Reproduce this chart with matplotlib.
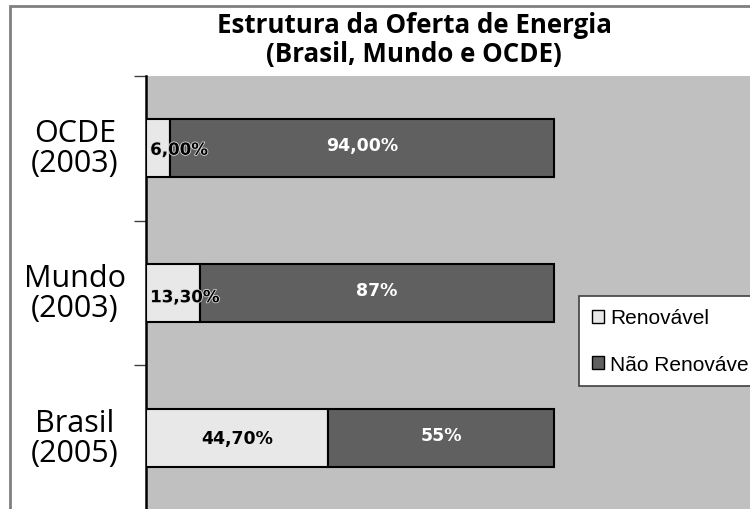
import matplotlib
matplotlib.use("Agg")
import matplotlib.pyplot as plt
from matplotlib.patches import Rectangle, Patch
import matplotlib.transforms as mtransforms
import matplotlib.patheffects as pe
from matplotlib import font_manager

# ---------------- data ----------------
categories = ["Brasil\n(2005)", "Mundo\n(2003)", "OCDE\n(2003)"]
renovavel = [44.7, 13.3, 6.0]
nao_renovavel = [55.3, 86.7, 94.0]
renov_labels = ["44,70%", "13,30%", "6,00%"]
nao_labels = ["55%", "87%", "94,00%"]
series_names = ["Renovável", "Não Renovável"]
title = "Estrutura da Oferta de Energia\n(Brasil, Mundo e OCDE)"

# ---------------- style ----------------
C_BG = "#c0c0c0"
C_REN = "#e8e8e8"
C_NAO = "#606060"

W, H = 750, 510
fig = plt.figure(figsize=(W / 100, H / 100), dpi=100)
fig.patch.set_facecolor("white")

def px_x(x):
    return x / W

def px_y(y):
    return 1 - y / H

# axes: left 146px, top 77px, extends past right / bottom edges (clipped chart)
ax_left, ax_top, ax_right, ax_bottom = 146, 77, 780, 511
ax = fig.add_axes([px_x(ax_left), px_y(ax_bottom), (ax_right - ax_left) / W, (ax_bottom - ax_top) / H])
ax.set_facecolor(C_BG)
px_per_pct = (554 - 146) / 100.0
ax.set_xlim(0, (ax_right - ax_left) / px_per_pct)
ax.set_ylim(-0.5, 2.5)

ypos = list(range(len(categories)))
bh = 0.40
ax.barh(ypos, renovavel, height=bh, color=C_REN, edgecolor="black", linewidth=1.5, zorder=3)
ax.barh(ypos, nao_renovavel, left=renovavel, height=bh, color=C_NAO, edgecolor="black", linewidth=1.5, zorder=3)

# labels
avail = {f.name for f in font_manager.fontManager.ttflist}
lab_font = "DejaVu Sans"
for i in ypos:
    r = renovavel[i]
    n = nao_renovavel[i]
    if r < 20:
        ax.annotate(renov_labels[i], xy=(0, i), xytext=(3, -1 if i == 2 else -3), textcoords="offset points",
                    ha="left", va="center", fontsize=12, fontweight="bold", family=lab_font, color="black",
                    zorder=5, path_effects=[pe.withStroke(linewidth=1.2, foreground="#d8d8d8")])
    else:
        ax.text(r / 2, i, renov_labels[i], ha="center", va="center", fontsize=12.5, fontweight="bold",
                family=lab_font, color="black", zorder=5)
    ax.text(r + n / 2, i + 0.02, nao_labels[i], ha="center", va="center", fontsize=12.5, fontweight="bold",
            family=lab_font, color="white", zorder=5)

# axes styling
for s in ["top", "right", "bottom"]:
    ax.spines[s].set_visible(False)
ax.spines["left"].set_linewidth(1.8)
ax.spines["left"].set_color("black")
ax.set_xticks([])
ax.set_yticks([-0.5, 0.5, 1.5, 2.5])
ax.set_yticklabels([])
ax.tick_params(axis="y", direction="out", length=8.6, width=1.0, color="#404040")

# category labels
trans = mtransforms.blended_transform_factory(fig.transFigure, ax.transData)
cat_font = "Open Sans" if "Open Sans" in avail else "DejaVu Sans"
for i, c in enumerate(categories):
    ax.text(px_x(75), i, c, transform=trans, ha="center", va="center", multialignment="center",
            fontsize=22, family=cat_font, color="black", linespacing=1.0, clip_on=False)

# title
fig.text(px_x(414), px_y(40), title, ha="center", va="center", multialignment="center",
         fontsize=18.6, fontweight="bold", family=cat_font, color="black", linespacing=1.08)

# legend
handles = [Patch(facecolor=C_REN, edgecolor="black", linewidth=1.0),
           Patch(facecolor=C_NAO, edgecolor="black", linewidth=1.0)]
leg_font = "Liberation Sans" if "Liberation Sans" in avail else "DejaVu Sans"
leg = fig.legend(handles, series_names, loc="upper left",
                 bbox_to_anchor=(px_x(579), px_y(297)), bbox_transform=fig.transFigure,
                 frameon=True, fancybox=False, shadow=False, borderaxespad=0, framealpha=1.0,
                 prop={"family": leg_font, "size": 15},
                 handlelength=0.58, handleheight=0.58, handletextpad=0.3,
                 labelspacing=1.3, borderpad=0.6)
leg.get_frame().set_edgecolor("#404040")
leg.get_frame().set_linewidth(1.2)
leg.get_frame().set_facecolor("white")

# outer chart border
fig.patches.append(Rectangle((px_x(10), -0.2), 1.2, px_y(7) + 0.2, transform=fig.transFigure,
                             fill=False, edgecolor="#808080", linewidth=2.0, zorder=0))

fig.savefig("out.png", dpi=100)
